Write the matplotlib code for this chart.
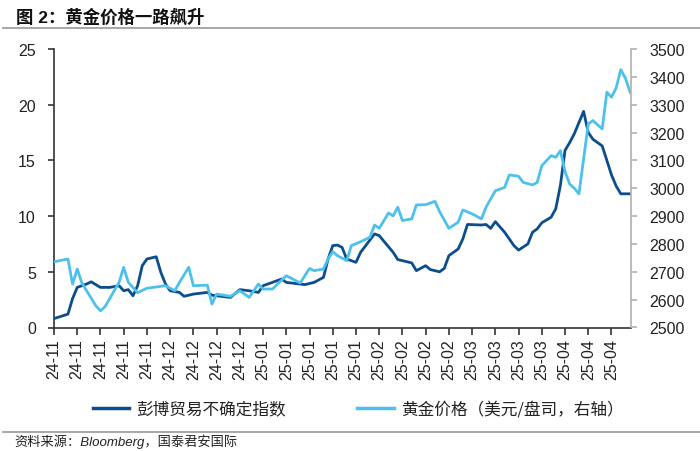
import matplotlib
matplotlib.use("Agg")
import matplotlib.pyplot as plt
from matplotlib.lines import Line2D
import pandas as pd

plt.rcParams['font.family'] = ['Liberation Sans', 'Noto Sans CJK SC', 'DejaVu Sans']

# ---------------- data ----------------
title = "图 2：黄金价格一路飙升"
source = "资料来源：Bloomberg，国泰君安国际"
label_unc = "彭博贸易不确定指数"
label_gold = "黄金价格（美元/盘司，右轴）"

unc_dates = ["2024-11-01", "2024-11-06", "2024-11-07", "2024-11-08", "2024-11-12", "2024-11-13",
             "2024-11-15", "2024-11-19", "2024-11-21", "2024-11-22", "2024-11-25", "2024-11-26",
             "2024-11-27", "2024-11-28", "2024-11-29", "2024-12-03", "2024-12-04", "2024-12-05",
             "2024-12-06", "2024-12-10", "2024-12-11", "2024-12-13", "2024-12-18", "2024-12-19",
             "2024-12-25", "2024-12-27", "2024-12-31", "2025-01-02", "2025-01-03", "2025-01-09",
             "2025-01-10", "2025-01-16", "2025-01-20", "2025-01-22", "2025-01-23", "2025-01-24",
             "2025-01-27", "2025-01-28", "2025-01-29", "2025-01-31", "2025-02-03", "2025-02-06",
             "2025-02-07", "2025-02-12", "2025-02-13", "2025-02-18", "2025-02-19", "2025-02-21",
             "2025-02-24", "2025-02-26", "2025-02-27", "2025-02-28", "2025-03-04", "2025-03-05",
             "2025-03-06", "2025-03-11", "2025-03-12", "2025-03-13", "2025-03-14", "2025-03-18",
             "2025-03-20", "2025-03-21", "2025-03-25", "2025-03-26", "2025-03-27", "2025-03-28",
             "2025-04-01", "2025-04-02", "2025-04-03", "2025-04-04", "2025-04-07", "2025-04-08",
             "2025-04-10", "2025-04-11", "2025-04-14", "2025-04-16", "2025-04-18", "2025-04-21",
             "2025-04-22", "2025-04-24"]
unc_values = [0.8, 1.2, 2.6, 3.6, 3.9, 4.1,
              3.6, 3.6, 3.75, 3.3, 3.4, 2.85,
              3.75, 5.55, 6.15, 6.35, 4.95, 3.9,
              3.3, 3.15, 2.8, 3.0, 3.15, 2.9,
              2.7, 3.4, 3.3, 3.15, 3.75, 4.35,
              4.05, 3.85, 4.05, 4.5, 6.15, 7.35,
              7.4, 7.2, 6.15, 5.85, 6.75, 8.4,
              8.25, 6.75, 6.1, 5.8, 5.1, 5.55,
              5.2, 5.0, 5.3, 6.45, 7.05, 7.95,
              9.25, 9.2, 9.25, 8.9, 9.5, 8.55,
              7.35, 6.95, 7.5, 8.55, 8.85, 9.4,
              9.9, 10.65, 12.75, 15.9, 16.6, 17.4,
              19.4, 17.5, 16.9, 16.3, 13.7, 12.7,
              12.0, 12.0]

gold_dates = ["2024-11-01", "2024-11-06", "2024-11-07", "2024-11-08", "2024-11-11", "2024-11-14",
              "2024-11-15", "2024-11-18", "2024-11-21", "2024-11-22", "2024-11-25", "2024-11-27",
              "2024-11-29", "2024-12-05", "2024-12-09", "2024-12-10", "2024-12-12", "2024-12-13",
              "2024-12-18", "2024-12-19", "2024-12-20", "2024-12-25", "2024-12-27", "2024-12-31",
              "2025-01-02", "2025-01-03", "2025-01-07", "2025-01-10", "2025-01-15", "2025-01-17",
              "2025-01-20", "2025-01-22", "2025-01-23", "2025-01-24", "2025-01-27", "2025-01-29",
              "2025-01-30", "2025-02-03", "2025-02-05", "2025-02-06", "2025-02-07", "2025-02-11",
              "2025-02-12", "2025-02-13", "2025-02-14", "2025-02-18", "2025-02-19", "2025-02-21",
              "2025-02-25", "2025-02-26", "2025-02-28", "2025-03-04", "2025-03-05", "2025-03-07",
              "2025-03-11", "2025-03-12", "2025-03-14", "2025-03-18", "2025-03-19", "2025-03-21",
              "2025-03-24", "2025-03-26", "2025-03-27", "2025-03-28", "2025-04-01", "2025-04-02",
              "2025-04-03", "2025-04-04", "2025-04-07", "2025-04-08", "2025-04-09", "2025-04-11",
              "2025-04-14", "2025-04-16", "2025-04-17", "2025-04-18", "2025-04-21", "2025-04-22",
              "2025-04-23", "2025-04-24"]
gold_values = [2736, 2746, 2656, 2710, 2660, 2578,
               2560, 2575, 2662, 2716, 2662, 2625,
               2641, 2650, 2632, 2662, 2716, 2650,
               2652, 2584, 2620, 2612, 2632, 2608,
               2656, 2638, 2638, 2686, 2660, 2712,
               2704, 2710, 2746, 2772, 2758, 2740,
               2794, 2808, 2824, 2868, 2856, 2911,
               2901, 2932, 2884, 2890, 2940, 2941,
               2953, 2916, 2856, 2878, 2922, 2908,
               2890, 2932, 2991, 3003, 3048, 3043,
               3021, 3012, 3021, 3081, 3117, 3111,
               3135, 3060, 3015, 3000, 2980, 3231,
               3243, 3213, 3345, 3327, 3360, 3426,
               3395, 3345]

# ---------------- figure ----------------
c_dark = '#0c4d8c'
c_light = '#4dc1ec'
txt = '#222222'

fig = plt.figure(figsize=(7.0, 4.52), dpi=100)
ax = fig.add_axes([54/700, 1-328.5/452, (631-54)/700, (328.5-50)/452])
ax2 = ax.twinx()

calendar = pd.bdate_range("2024-11-01", "2025-04-24")
pos_unc = calendar.get_indexer(pd.to_datetime(unc_dates))
pos_gold = calendar.get_indexer(pd.to_datetime(gold_dates))

ax.plot(pos_unc, unc_values, color=c_dark, lw=2.0, solid_joinstyle='round', zorder=3)
ax2.plot(pos_gold, gold_values, color=c_light, lw=2.0, solid_joinstyle='round', zorder=2)

ax.set_xlim(0, 124.2)
ax.set_ylim(0, 25)
ax2.set_ylim(2500, 3500)
ax.set_yticks(range(0, 26, 5))
ax2.set_yticks(range(2500, 3501, 100))

tick_pos = list(range(0, len(calendar), 5))
ax.set_xticks(tick_pos)
ax.set_xticklabels([calendar[i].strftime('%y-%m') for i in tick_pos], rotation=90)

for a in (ax, ax2):
    a.spines['top'].set_visible(False)
    a.patch.set_visible(False)
ax.spines['right'].set_visible(False)
ax2.spines['left'].set_visible(False)
ax2.spines['bottom'].set_visible(False)
ax.spines['left'].set_color('#333333')
ax.spines['bottom'].set_color('#333333')
ax.spines['left'].set_linewidth(1.2)
ax.spines['bottom'].set_linewidth(1.2)
ax2.spines['right'].set_color('#b0b0b0')
ax2.spines['right'].set_linewidth(1.2)

ax.tick_params(axis='y', direction='out', length=4, width=1.2, color='#333333',
               labelsize=11.5, labelcolor=txt, pad=9)
ax.tick_params(axis='x', direction='out', length=5, width=1.2, color='#333333',
               labelsize=11.5, labelcolor=txt, pad=3)
ax2.tick_params(axis='y', direction='out', length=4, width=1.2, color='#b0b0b0',
                labelsize=11.5, labelcolor=txt, pad=9)

# title and separators
fig.text(16/700, 1-17/452, title, fontsize=12.5, fontweight='bold', color='#111111',
         va='center', ha='left', family=['Liberation Sans', 'Noto Sans CJK SC'])
fig.add_artist(Line2D([3/700, 1.0], [1-29/452, 1-29/452], color='#a0a0a0', lw=1.3))
fig.add_artist(Line2D([3/700, 1.0], [1-433/452, 1-433/452], color='#a0a0a0', lw=1.3))
fig.text(14/700, 1-442/452, source, fontsize=9.5, style='italic', color='#222222',
         va='center', ha='left', family=['Liberation Sans', 'Noto Sans CJK SC'])

handles = [Line2D([], [], color=c_dark, lw=2.5), Line2D([], [], color=c_light, lw=2.5)]
fig.legend(handles, [label_unc, label_gold], loc='center', bbox_to_anchor=(358/700, 1-410/452),
           ncol=2, frameon=False, handlelength=2.2, handletextpad=0.4, columnspacing=4.3,
           prop={'family': ['Noto Sans CJK SC'], 'size': 12}, labelcolor='#222222')

fig.savefig("out.png", dpi=100)
